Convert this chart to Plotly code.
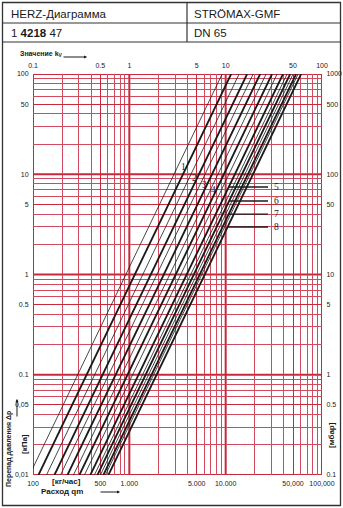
import math
import plotly.graph_objects as go

# ---------------- data ----------------
# kv values of the characteristic lines (where each line meets the 100 kPa top edge)
kv_thick = [11.4, 16.7, 22.8, 30.3, 39.4, 46.7, 53.8, 60.7]   # presettings 1..8
kv_thin = [9.2, 13.8, 19.3, 26.3, 34.2, 43.4, 50.1, 56.5]     # intermediate lines
preset_labels = ["1", "2", "3", "4", "5", "6", "7", "8"]
# pressure drop (kPa) at which each preset label / leader sits
label_dp = [11.8, 9.2, 7.8, 7.0, 7.46, 5.41, 4.0, 2.98]

# axis tick values and labels
flow_ticks = [100, 500, 1000, 5000, 10000, 50000, 100000]
flow_text = ["100", "500", "1.000", "5.000", "10.000", "50,000", "100,000"]
kv_ticks = [0.1, 0.5, 1, 5, 10, 50, 100]
kv_text = ["0.1", "0.5", "1", "5", "10", "50", "100"]
dp_ticks = [0.01, 0.05, 0.1, 0.5, 1, 5, 10, 50, 100]
dp_text = ["0,01", "0,05", "0.1", "0.5", "1", "5", "10", "50", "100"]
mbar_ticks = [0.1, 0.5, 1, 5, 10, 50, 100, 500, 1000]
mbar_text = ["0.1", "0.5", "1", "5", "10", "50", "100", "500", "1000"]
flow_decades = [100, 1000, 10000, 100000]
dp_decades = [0.01, 0.1, 1, 10, 100]
flow_minor = [m * d for d in [100, 1000, 10000] for m in [2, 3, 4, 6, 7, 8, 9]]
dp_minor = [m * d for d in [0.01, 0.1, 1, 10] for m in [2, 3, 4, 6, 7, 8, 9]]

DP_MIN, DP_MAX = 0.01, 100.0

# ---------------- figure ----------------
W, H = 343, 508
L, R, T, B = 33, 21, 74, 33
PW, PH = W - L - R, H - T - B
RED = "#c8283c"
RED_MINOR = "#d24a5e"
INK = "#1a1a1a"
FONT = "Liberation Sans"


def px(xp):
    return (xp - L) / PW


def py(yp):
    return (H - B - yp) / PH


def flow_at(kv, dp):
    # dp in kPa -> flow in kg/h  (dp[bar] = (q[m3/h]/kv)^2)
    return 1000.0 * kv * (dp / 100.0) ** 0.5


fig = go.Figure()

for kv in kv_thin:
    q = [flow_at(kv, DP_MIN), flow_at(kv, DP_MAX)]
    fig.add_trace(go.Scatter(x=q, y=[DP_MIN, DP_MAX], mode="lines",
                             line=dict(color=INK, width=0.8), hoverinfo="skip",
                             showlegend=False))
for kv in kv_thick:
    q = [flow_at(kv, DP_MIN), flow_at(kv, DP_MAX)]
    fig.add_trace(go.Scatter(x=q, y=[DP_MIN, DP_MAX], mode="lines",
                             line=dict(color=INK, width=1.8), hoverinfo="skip",
                             showlegend=False))

# dummy trace to activate secondary axes
fig.add_trace(go.Scatter(x=[], y=[], xaxis="x2", yaxis="y2", showlegend=False))

shapes = []
# decade grid lines (thicker)
for d in flow_decades:
    shapes.append(dict(type="line", xref="x", yref="paper", x0=d, x1=d, y0=0, y1=1,
                       line=dict(color=RED, width=2), layer="between"))
for d in dp_decades:
    shapes.append(dict(type="line", xref="paper", yref="y", x0=0, x1=1, y0=d, y1=d,
                       line=dict(color=RED, width=2), layer="between"))

# outer frame and header table
shapes.append(dict(type="rect", xref="paper", yref="paper", x0=px(2.5), x1=px(340.5),
                   y0=py(505.5), y1=py(2.5), line=dict(color="#333", width=1.3)))
shapes.append(dict(type="line", xref="paper", yref="paper", x0=px(2.5), x1=px(340.5),
                   y0=py(23), y1=py(23), line=dict(color="#333", width=1.2)))
shapes.append(dict(type="line", xref="paper", yref="paper", x0=px(2.5), x1=px(340.5),
                   y0=py(42), y1=py(42), line=dict(color="#333", width=1.2)))
shapes.append(dict(type="line", xref="paper", yref="paper", x0=px(187), x1=px(187),
                   y0=py(42), y1=py(2.5), line=dict(color="#333", width=1.2)))

annotations = []
# header texts
hdr = dict(xref="paper", yref="paper", showarrow=False, xanchor="left", yanchor="middle",
           font=dict(family=FONT, size=11.5, color=INK))
annotations.append(dict(hdr, x=px(9), y=py(13.5), text="HERZ-Диаграмма"))
annotations.append(dict(hdr, x=px(192), y=py(13.5), text="STRÖMAX-GMF"))
annotations.append(dict(hdr, x=px(9), y=py(33), text="1 <b>4218</b> 47"))
annotations.append(dict(hdr, x=px(192), y=py(33), text="DN 65"))

lab_font = dict(family="Liberation Serif", size=9.5, color=INK)
# preset labels 1-4 on the lines (annotation coords on log axes are log10 values)
for i in range(4):
    annotations.append(dict(x=math.log10(flow_at(kv_thick[i], label_dp[i])),
                            y=math.log10(label_dp[i]),
                            xref="x", yref="y", text=preset_labels[i], showarrow=False,
                            xanchor="right", yanchor="middle", xshift=2,
                            font=lab_font))
# preset labels 5-8 with leader lines
q_end = 10 ** (2 + 3 * px(268))
q_txt = 10 ** (2 + 3 * px(272))
for i in range(4, 8):
    shapes.append(dict(type="line", xref="x", yref="y",
                       x0=flow_at(kv_thick[i], label_dp[i]), x1=q_end,
                       y0=label_dp[i], y1=label_dp[i],
                       line=dict(color=INK, width=1.4)))
    annotations.append(dict(x=math.log10(q_txt), y=math.log10(label_dp[i]),
                            xref="x", yref="y",
                            text=preset_labels[i], showarrow=False, xanchor="left",
                            yanchor="middle", font=lab_font))

# axis titles
small = dict(family=FONT, size=7, color=INK)
annotations.append(dict(xref="paper", yref="paper", x=px(18), y=py(54), showarrow=False,
                        xanchor="left", yanchor="middle",
                        text="<b>Значение k<sub>V</sub></b>", font=small))
annotations.append(dict(xref="paper", yref="paper", x=px(87), y=py(57), ax=-25, ay=0,
                        showarrow=True, arrowhead=2,
                        arrowsize=0.6, arrowwidth=1, arrowcolor=INK, text=""))
annotations.append(dict(xref="paper", yref="paper", x=px(66), y=py(481), showarrow=False,
                        xanchor="center", yanchor="middle", text="<b>[кг/час]</b>",
                        font=dict(family=FONT, size=8, color=INK)))
annotations.append(dict(xref="paper", yref="paper", x=px(62), y=py(492), showarrow=False,
                        xanchor="center", yanchor="middle", text="<b>Расход qm</b>",
                        font=dict(family=FONT, size=8, color=INK)))
annotations.append(dict(xref="paper", yref="paper", x=px(120), y=py(492), ax=-21, ay=0,
                        showarrow=True, arrowhead=2,
                        arrowsize=0.6, arrowwidth=1, arrowcolor=INK, text=""))
annotations.append(dict(xref="paper", yref="paper", x=px(9), y=py(449), showarrow=False,
                        textangle=-90, xanchor="center", yanchor="middle",
                        text="<b>Перепад давления Δp</b>",
                        font=dict(family=FONT, size=7, color=INK)))
annotations.append(dict(xref="paper", yref="paper", x=px(17), y=py(399), ax=0, ay=19,
                        showarrow=True, arrowhead=2,
                        arrowsize=0.6, arrowwidth=1, arrowcolor=INK, text=""))
annotations.append(dict(xref="paper", yref="paper", x=px(24), y=py(444), showarrow=False,
                        textangle=-90, xanchor="center", yanchor="middle",
                        text="<b>[кПа]</b>", font=dict(family=FONT, size=8, color=INK)))
annotations.append(dict(xref="paper", yref="paper", x=px(331), y=py(435), showarrow=False,
                        textangle=-90, xanchor="center", yanchor="middle",
                        text="<b>[мбар]</b>", font=dict(family=FONT, size=8, color=INK)))

axis_common = dict(type="log", showline=False, zeroline=False, tickfont=small,
                   ticks="outside", ticklen=2, tickcolor="rgba(0,0,0,0)", fixedrange=True,
                   automargin=False)

fig.update_layout(
    width=W, height=H, margin=dict(l=L, r=R, t=T, b=B, pad=0),
    paper_bgcolor="white", plot_bgcolor="white", showlegend=False,
    font=dict(family=FONT),
    xaxis=dict(axis_common, range=[2, 5], tickmode="array", tickvals=flow_ticks,
               ticktext=flow_text, showgrid=True, gridcolor=RED, gridwidth=1.1,
               minor=dict(tickmode="array", tickvals=flow_minor, showgrid=True,
                          gridcolor=RED_MINOR, gridwidth=0.7, ticks="")),
    yaxis=dict(axis_common, range=[-2, 2], tickmode="array", tickvals=dp_ticks,
               ticktext=dp_text, showgrid=True, gridcolor=RED, gridwidth=1.1,
               minor=dict(tickmode="array", tickvals=dp_minor, showgrid=True,
                          gridcolor=RED_MINOR, gridwidth=0.7, ticks="")),
    xaxis2=dict(axis_common, range=[-1, 2], overlaying="x", side="top", anchor="y2",
                tickmode="array", tickvals=kv_ticks, ticktext=kv_text, showgrid=False),
    yaxis2=dict(axis_common, range=[-1, 3], overlaying="y", side="right", anchor="x2",
                tickmode="array", tickvals=mbar_ticks, ticktext=mbar_text, showgrid=False),
    shapes=shapes, annotations=annotations,
)

fig.write_html("out.html")
